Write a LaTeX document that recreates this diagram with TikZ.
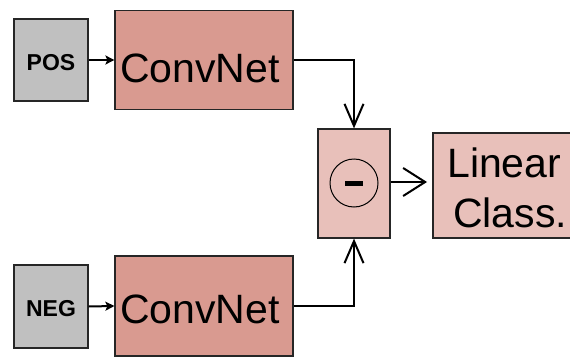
\documentclass[tikz,border=0pt]{standalone}
\usepackage{fontspec}
\setmainfont{Liberation Sans}
\usetikzlibrary{arrows.meta,calc}
\definecolor{convred}{HTML}{D99A90}
\definecolor{lightred}{HTML}{E8C0BA}
\definecolor{inputgray}{HTML}{C0C0C0}
\begin{document}
\begin{tikzpicture}[x=1pt,y=-1pt,
  inbox/.style={draw=black!85,line width=1.2pt,fill=inputgray,minimum width=74pt,inner sep=0pt},
  intext/.style={inner sep=0pt,font=\fontsize{23}{27}\selectfont\bfseries},
  convbox/.style={draw=black!85,line width=1.2pt,fill=convred,minimum width=178pt,inner sep=0pt},
  bigtext/.style={inner sep=0pt,font=\fontsize{41}{50}\selectfont},
  lightbox/.style={draw=black!85,line width=1.2pt,fill=lightred,inner sep=0pt},
  smallarr/.style={line width=2pt,-{Stealth[length=9pt,width=9pt,inset=2pt]}},
  bigarr/.style={line width=2pt,-{Straight Barb[length=22pt,width=19pt,line width=2pt]}},
  widearr/.style={line width=2pt,-{Straight Barb[length=22pt,width=28pt,line width=2pt]}}]
\useasboundingbox (0,0) rectangle (570,356);
\node[inbox,minimum height=82pt] (pos) at (51,60) {};
\node[intext] (postext) at (51,62.5) {POS};
\node[convbox,minimum height=99pt] (ct) at (204,60) {};
\node[bigtext] (cttext) at (200,68) {ConvNet};
\node[inbox,minimum height=83pt] (neg) at (51,306.5) {};
\node[intext] (negtext) at (51,309) {NEG};
\node[convbox,minimum height=100pt] (cb) at (204,306) {};
\node[bigtext] (cbtext) at (200,309) {ConvNet};
\node[lightbox,minimum width=72pt,minimum height=109pt] (minus) at (354,183.5) {};
\node[draw=black,line width=1pt,circle,minimum size=48pt,inner sep=0pt] (circ) at (354,183) {};
\fill[black] ($(circ.center)+(-9,-2.5)$) rectangle ($(circ.center)+(9,2.5)$);
\node[lightbox,minimum width=149pt,minimum height=105pt] (lin) at (507.5,185.5) {};
\node[bigtext,anchor=base west] (lin1) at (447,177) {Linear};
\node[bigtext,anchor=base west] (lin2) at (453,227) {Class.};
\coordinate (arrend) at (427,182);
\draw[smallarr] (pos.east) -- (ct.west);
\draw[smallarr] (neg.east) -- (cb.west);
\draw[bigarr] (ct.east) -| (minus.north);
\draw[bigarr] (cb.east) -| (minus.south);
\draw[widearr] (minus.east |- arrend) -- (arrend);
\end{tikzpicture}
\end{document}
